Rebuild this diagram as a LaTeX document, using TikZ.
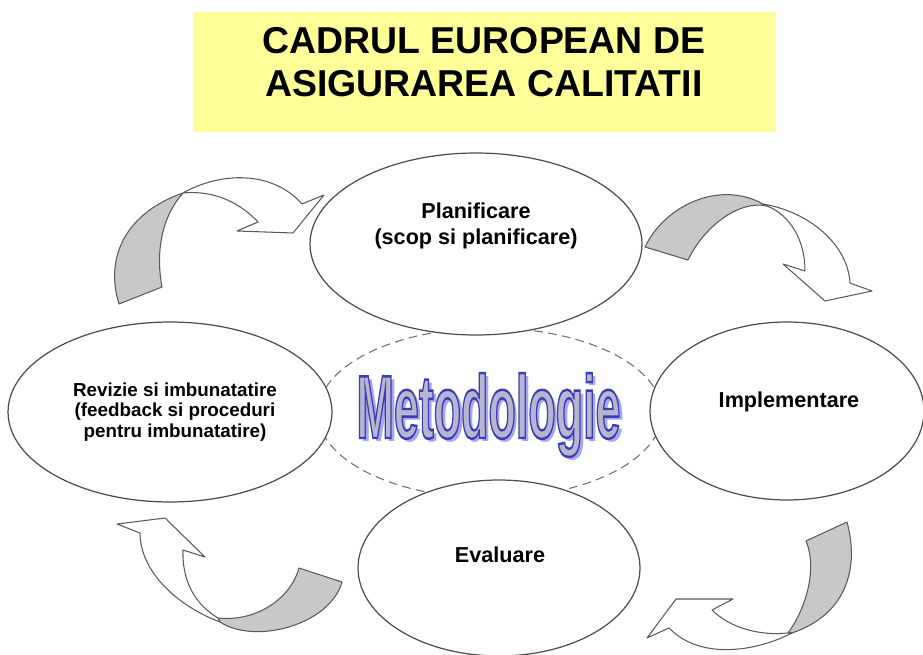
\documentclass[tikz,border=0pt]{standalone}
\usepackage{fontspec}
\setmainfont{Liberation Sans}
\usetikzlibrary{shapes.geometric}

\definecolor{titleyellow}{HTML}{FFFF99}
\definecolor{ringgray}{HTML}{4D4D4D}
\definecolor{dashblue}{HTML}{5B7193}
\definecolor{bandgray}{HTML}{C8C8C8}
\definecolor{bandline}{HTML}{5A5A5A}
\definecolor{metfill}{HTML}{B6B6CE}
\definecolor{metshade}{HTML}{A6A6F4}

% outlined word: fill and stroke text render mode
\newcommand{\metword}{\fontsize{51}{51}\selectfont\bfseries\scalebox{0.5}[1]{%
  \special{pdf:literal direct 2 Tr 1.4 w 0.235 0.235 0.706 RG}Metodologie\special{pdf:literal direct 0 Tr}}}
\newcommand{\metshadow}{\fontsize{51}{51}\selectfont\bfseries\scalebox{0.5}[1]{Metodologie}}

\begin{document}
\begin{tikzpicture}[x=0.02cm,y=-0.02cm,
phase/.style={ellipse,draw=ringgray,line width=0.7pt,fill=white,inner sep=0pt},
phase text/.style={align=center,font=\bfseries\fontsize{12.3}{14.5}\selectfont},
band back/.style={fill=bandgray,draw=bandline,line width=0.6pt,line join=round},
band front/.style={fill=white,draw=bandline,line width=0.6pt,line join=round},
met node/.style={inner sep=0pt,anchor=base}]

\useasboundingbox (0,0) rectangle (923,655);

% title
\node[fill=titleyellow,minimum width=11.66cm,minimum height=2.4cm,inner sep=0pt] (title) at (484.5,72) {};
\node[align=center,font=\bfseries\fontsize{21.3}{24.8}\selectfont] (title-t) at (484,62) {CADRUL EUROPEAN DE\\ASIGURAREA CALITATII};

% middle ring
\node[ellipse,draw=dashblue,line width=0.6pt,dash pattern=on 5pt off 3pt,minimum width=6.88cm,minimum height=3.4cm,inner sep=0pt] (ring) at (490,413) {};

% phases
\node[phase,minimum width=6.64cm,minimum height=3.64cm] (plan) at (476,244) {};
\node[phase,minimum width=5.48cm,minimum height=3.56cm] (impl) at (787,411) {};
\node[phase,minimum width=5.64cm,minimum height=3.52cm] (eval) at (499,568) {};
\node[phase,minimum width=6.48cm,minimum height=3.6cm] (rev) at (170,412) {};

\node[phase text] (plan-t) at (476,226) {Planificare\\(scop si planificare)};
\node[phase text] (impl-t) at (789,402) {Implementare};
\node[phase text] (eval-t) at (500,555) {Evaluare};
\node[phase text,font=\bfseries\fontsize{10.7}{11.5}\selectfont] (rev-t) at (175,412) {Revizie si imbunatatire\\(feedback si proceduri\\pentru imbunatatire)};

% Metodologie
\node[met node,text=metshade] (met-s) at (492,441) {\metshadow};
\node[met node,text=metfill] (met) at (488.5,438) {\metword};

% top left arrow
\draw[band back] (119,304) .. controls (104,255) and (128,212) .. (183,193)
  .. controls (163,215) and (155,250) .. (162,287) -- cycle;
\draw[band front] (183,193) .. controls (220,172) and (272,170) .. (302,204)
  -- (324,195) -- (293,233) -- (237,231) -- (258,222)
  .. controls (240,203) and (215,190) .. (183,193) -- cycle;

% top right arrow
\draw[band back] (645,247) .. controls (665,205) and (720,180) .. (763,204)
  -- (767,206) .. controls (740,200) and (705,225) .. (688,260) -- cycle;
\draw[band front] (763,204) .. controls (810,212) and (848,245) .. (850,283)
  -- (872,291) -- (825,301) -- (783,264) -- (805,271)
  .. controls (805,240) and (790,215) .. (767,206) -- cycle;

% bottom right arrow
\draw[band back] (847,522) .. controls (860,570) and (845,615) .. (792,633)
  -- (788,633) .. controls (805,610) and (818,570) .. (806,541) -- cycle;
\draw[band front] (792,633) .. controls (755,652) and (700,660) .. (669,628)
  -- (647,638) -- (676,599) -- (733,599) -- (712,610)
  .. controls (730,628) and (760,636) .. (788,633) -- cycle;

% bottom left arrow
\draw[band back] (342,582) .. controls (330,625) and (255,645) .. (220,622)
  -- (218,618) .. controls (255,622) and (290,600) .. (299,568) -- cycle;
\draw[band front] (220,622) .. controls (175,605) and (140,570) .. (140,533)
  -- (117,524) -- (165,518) -- (205,557) -- (183,550)
  .. controls (182,585) and (198,606) .. (218,618) -- cycle;
\end{tikzpicture}
\end{document}
